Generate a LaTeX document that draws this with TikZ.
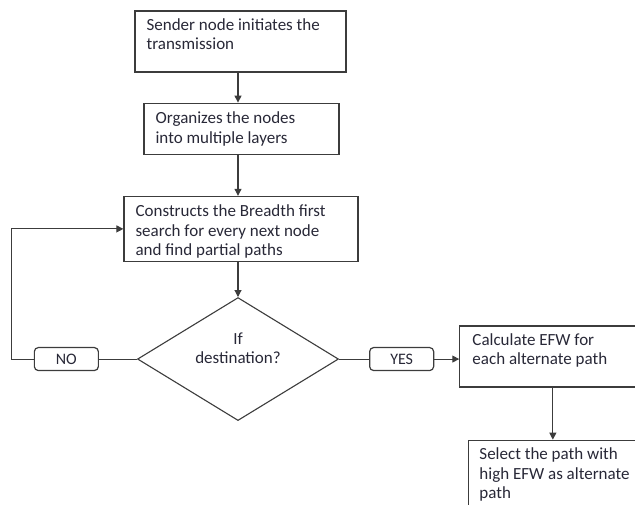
\documentclass[tikz,border=0pt]{standalone}
\usepackage{fontspec}
\setmainfont{Carlito}
\usetikzlibrary{shapes,arrows.meta,positioning}

\definecolor{linegray}{RGB}{60,60,60}
\definecolor{textgray}{RGB}{40,40,55}

\begin{document}
\begin{tikzpicture}[x=1pt, y=-1pt]

% Define styles
\tikzstyle{stepbox} = [rectangle, draw=linegray, line width=1.2pt, inner sep=0pt]
\tikzstyle{boxtext} = [align=left, inner sep=0pt, text=textgray, font=\fontsize{17}{19.5}\selectfont]
\tikzstyle{decision} = [diamond, draw=linegray, line width=1.1pt, inner sep=0pt, minimum width=201pt, minimum height=123pt]
\tikzstyle{choice} = [rectangle, rounded corners=4pt, draw=linegray, line width=1.2pt, minimum width=64pt, minimum height=23pt, inner sep=0pt, text=textgray, font=\fontsize{16}{18}\selectfont]
\tikzstyle{arrow} = [line width=1.1pt, draw=linegray, -{Triangle[length=7pt, width=7pt]}]
\tikzstyle{line} = [line width=1.1pt, draw=linegray]

\useasboundingbox (0,0) rectangle (635,504);
\clip (0,0) rectangle (635,504);

% Main column
\node (sender) [stepbox, minimum width=211pt, minimum height=61pt] at (240.5,41.5) {};
\node (layers) [stepbox, minimum width=195pt, minimum height=51pt, below=30pt of sender, xshift=1pt] {};
\node (bfs) [stepbox, minimum width=234pt, minimum height=65pt, below=41pt of layers, xshift=-0.5pt] {};
\node (dest) [decision, below=35pt of bfs, xshift=-3pt] {};

% Branches
\node (no) [choice, left=38pt of dest] {NO};
\node (yes) [choice, right=30pt of dest] {YES};
\node (efw) [stepbox, minimum width=186pt, minimum height=61pt, right=25pt of yes, yshift=2.5pt] {};
\node (select) [stepbox, minimum width=177pt, minimum height=80pt, below=52pt of efw, xshift=4.5pt] {};

% Texts
\node (sendertext) [boxtext, below right=8pt and 12pt of sender.north west] {Sender node initiates the\\transmission};
\node (layerstext) [boxtext, below right=9pt and 12pt of layers.north west] {Organizes the nodes\\into multiple layers};
\node (bfstext) [boxtext, below right=9pt and 12pt of bfs.north west] {Constructs the Breadth first\\search for every next node\\and find partial paths};
\node (desttext) [boxtext, align=center, yshift=11pt] at (dest) {If\\destination?};
\node (efwtext) [boxtext, below right=8pt and 13pt of efw.north west] {Calculate EFW for\\each alternate path};
\node (selecttext) [boxtext, below right=8pt and 11pt of select.north west] {Select the path with\\high EFW as alternate\\path};

% Connections
\draw [arrow] (sender.south -| dest) -- (layers.north -| dest);
\draw [arrow] (layers.south -| dest) -- (bfs.north -| dest);
\draw [arrow] (bfs.south -| dest) -- (dest.north);
\draw [line] (dest.west) -- (no.east);
\draw [arrow] (no.west) -- ++(-22,0) |- (bfs.west);
\draw [line] (dest.east) -- (yes.west);
\draw [arrow] (yes.east) -- (yes.east -| efw.west);
\draw [arrow] (efw.south) -- (efw.south |- select.north);

\end{tikzpicture}
\end{document}
